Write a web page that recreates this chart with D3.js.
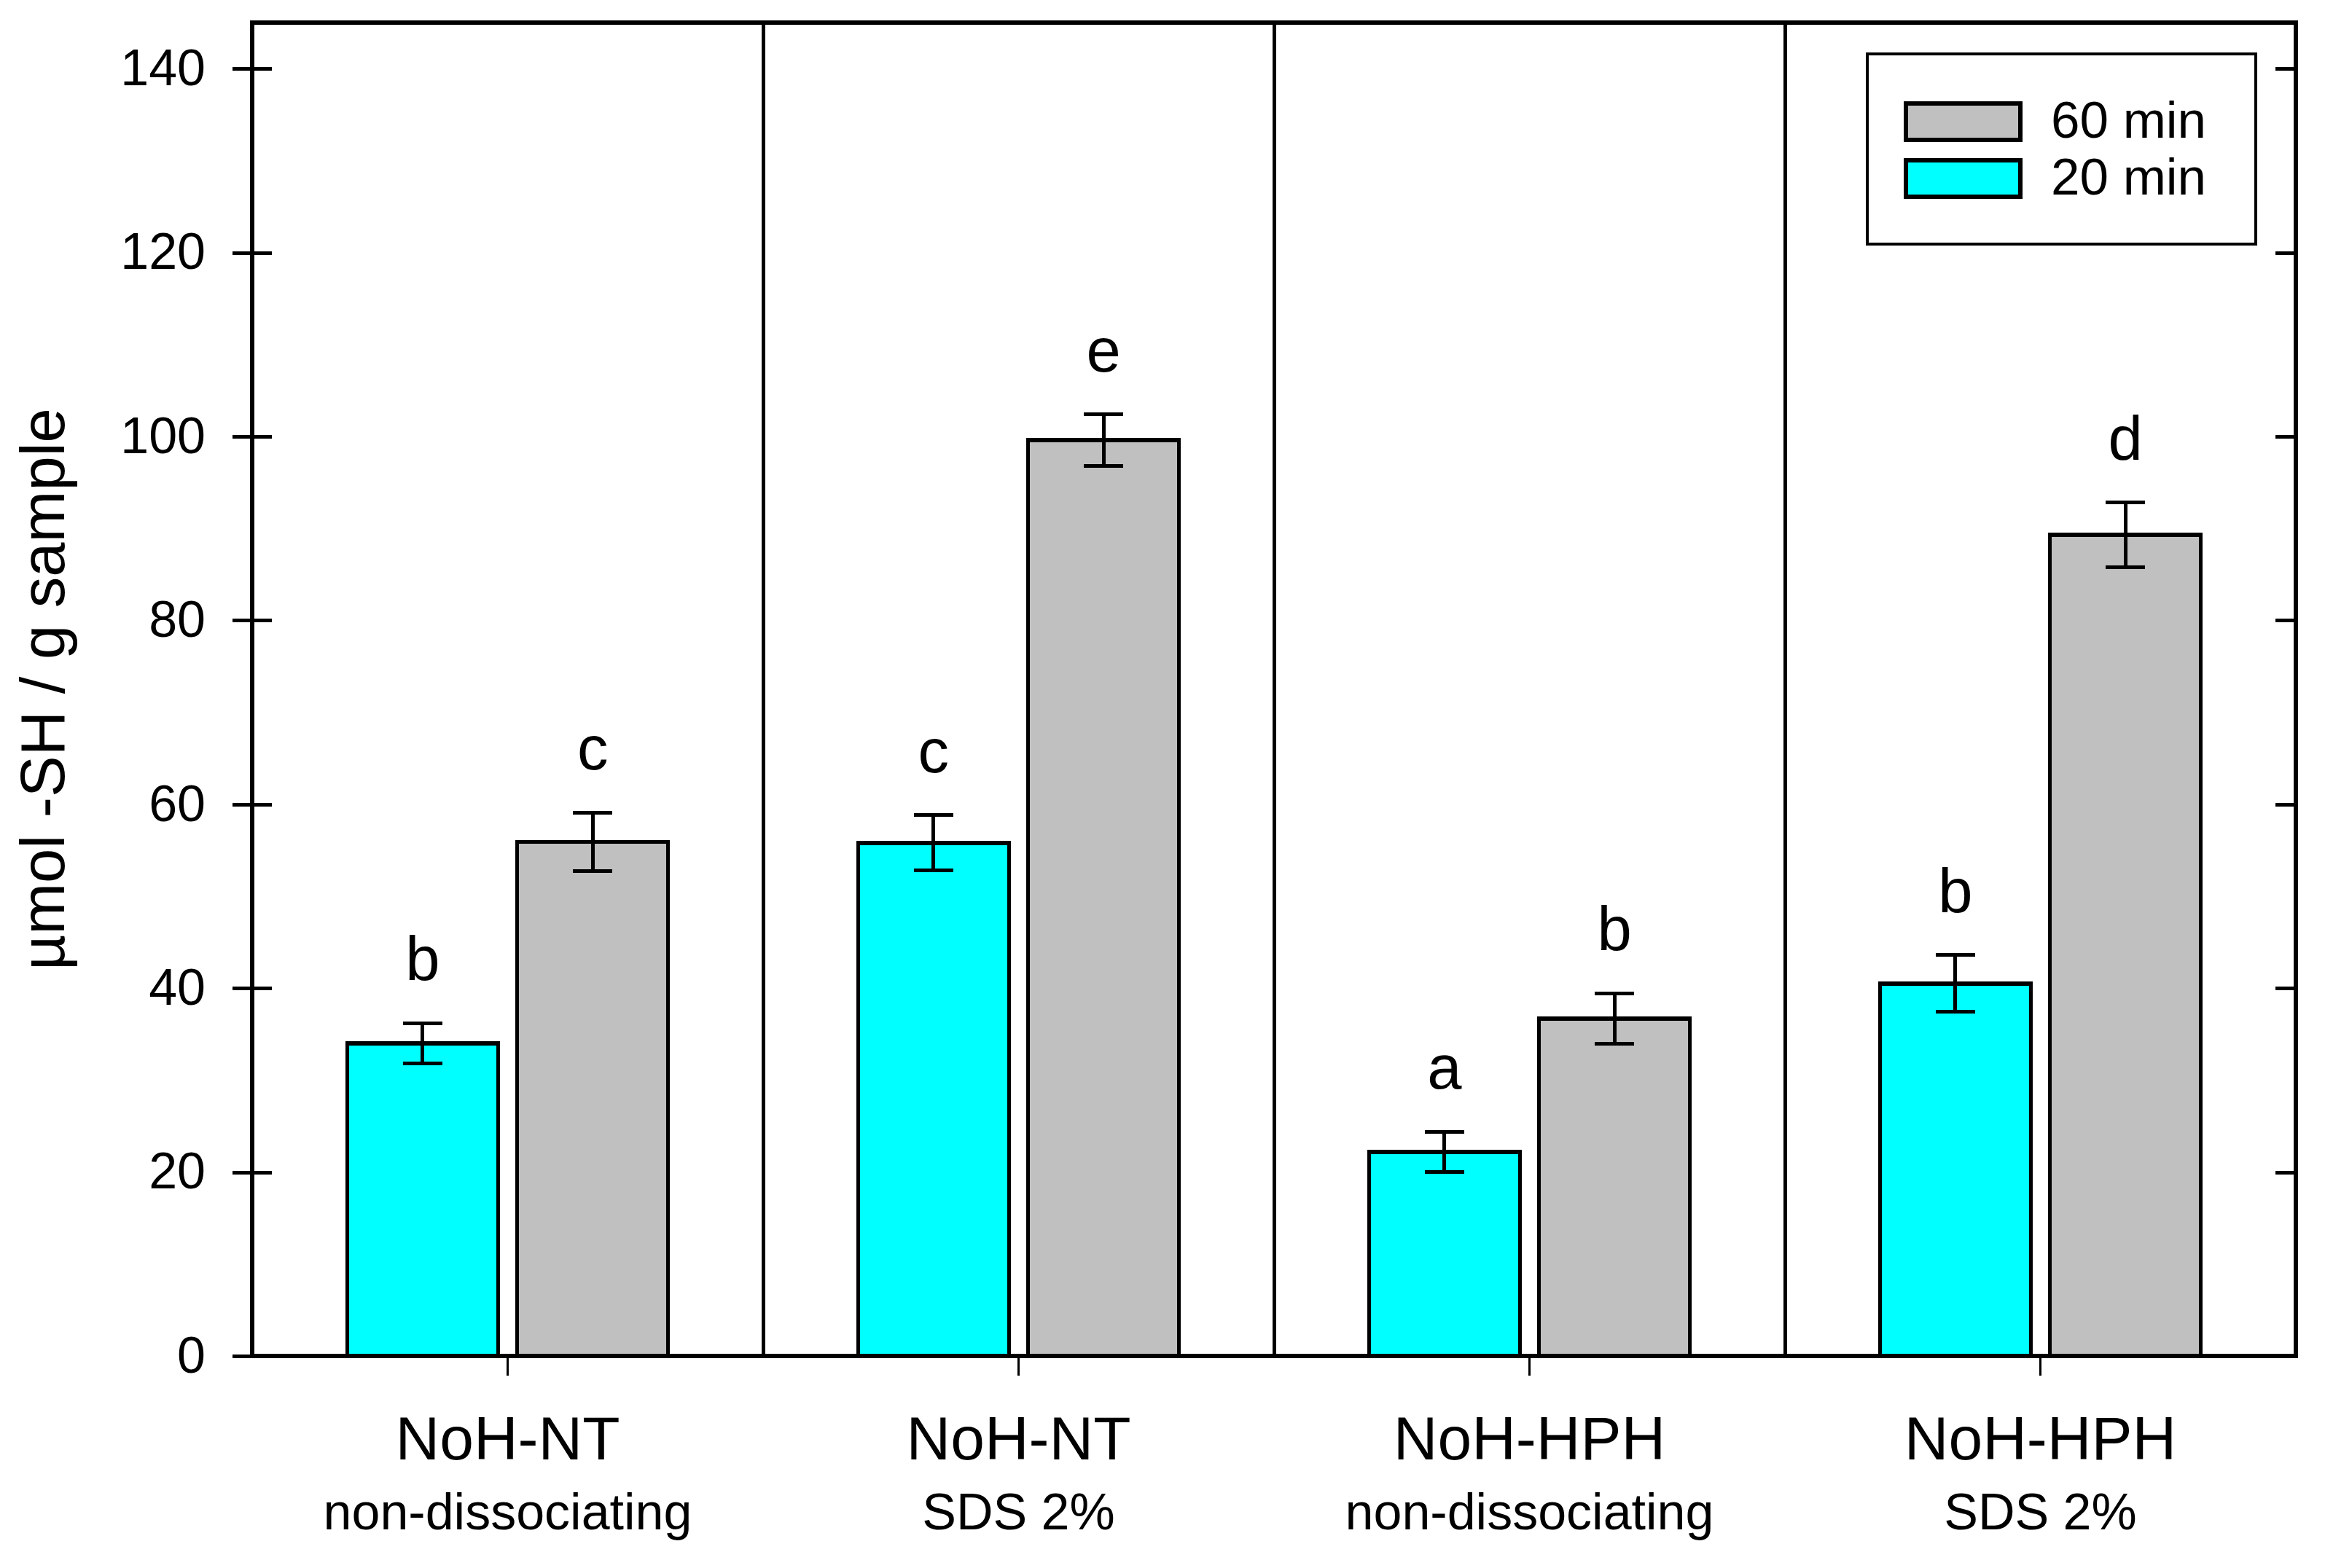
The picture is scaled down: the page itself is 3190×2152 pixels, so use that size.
<!DOCTYPE html>
<html>
<head>
<meta charset="utf-8">
<script src="https://cdn.jsdelivr.net/npm/d3@7"></script>
<style>
  html, body { margin: 0; padding: 0; background: #fff; }
  text { font-family: "Liberation Sans", Arial, sans-serif; fill: #000; }
  line, rect { shape-rendering: crispEdges; }
</style>
</head>
<body>
<div id="chart"></div>
<script>
document.addEventListener('DOMContentLoaded', function() {

    // data
    const groupIds = ["g1", "g2", "g3", "g4"];
    const groupMain = ["NoH-NT", "NoH-NT", "NoH-HPH", "NoH-HPH"];
    const groupSub = ["non-dissociating", "SDS 2%", "non-dissociating", "SDS 2%"];

    const seriesNames = ["20 min", "60 min"];
    const seriesColors = ["#00ffff", "#c0c0c0"];

    const values20 = [34.0, 55.8, 22.2, 40.5];
    const errors20 = [2.2, 3.0, 2.2, 3.1];
    const letters20 = ["b", "c", "a", "b"];

    const values60 = [55.9, 99.6, 36.7, 89.3];
    const errors60 = [3.2, 2.8, 2.75, 3.5];
    const letters60 = ["c", "e", "b", "d"];

    const yTicks = [0, 20, 40, 60, 80, 100, 120, 140];
    const yTitle = "\u00b5mol -SH / g sample";

    const width = 3190, height = 2152;
    const left = 346, right = 3150, top = 31, bottom = 1861;

    const svg = d3.select("#chart")
        .append("svg")
        .attr("width", width)
        .attr("height", height);

    const x0 = d3.scaleBand()
        .domain(groupIds)
        .range([left, right])
        .padding(0);

    const x1 = d3.scaleBand()
        .domain(seriesNames)
        .range([0, x0.bandwidth()])
        .paddingInner(0.113)
        .paddingOuter(0.558);

    const y = d3.scaleLinear()
        .domain([0, 145])
        .range([bottom, top]);

    const color = d3.scaleOrdinal().domain(seriesNames).range(seriesColors);

    // flatten into bar records
    const bars = [];
    groupIds.forEach((g, i) => {
        bars.push({ g: g, s: seriesNames[0], v: values20[i], e: errors20[i], l: letters20[i] });
        bars.push({ g: g, s: seriesNames[1], v: values60[i], e: errors60[i], l: letters60[i] });
    });

    const barG = svg.append("g");

    barG.selectAll("rect")
        .data(bars)
        .enter().append("rect")
        .attr("x", d => x0(d.g) + x1(d.s))
        .attr("width", x1.bandwidth())
        .attr("y", d => y(d.v))
        .attr("height", d => y(0) - y(d.v))
        .attr("fill", d => color(d.s))
        .attr("stroke", "#000")
        .attr("stroke-width", 5.5);

    // error bars
    const capHalf = 27;
    const errG = barG.selectAll("g.err")
        .data(bars)
        .enter().append("g")
        .attr("class", "err")
        .attr("stroke", "#000")
        .attr("stroke-width", 5);

    const cx = d => x0(d.g) + x1(d.s) + x1.bandwidth() / 2;

    errG.append("line")
        .attr("x1", cx).attr("x2", cx)
        .attr("y1", d => y(d.v + d.e)).attr("y2", d => y(d.v - d.e));
    errG.append("line")
        .attr("x1", d => cx(d) - capHalf).attr("x2", d => cx(d) + capHalf)
        .attr("y1", d => y(d.v + d.e)).attr("y2", d => y(d.v + d.e));
    errG.append("line")
        .attr("x1", d => cx(d) - capHalf).attr("x2", d => cx(d) + capHalf)
        .attr("y1", d => y(d.v - d.e)).attr("y2", d => y(d.v - d.e));

    // significance letters
    barG.selectAll("text.letter")
        .data(bars)
        .enter().append("text")
        .attr("class", "letter")
        .attr("x", cx)
        .attr("y", d => y(d.v + d.e) - 59)
        .attr("text-anchor", "middle")
        .style("font-size", "85px")
        .text(d => d.l);

    // frame and group separators
    svg.append("rect")
        .attr("x", left).attr("y", top)
        .attr("width", right - left).attr("height", bottom - top)
        .attr("fill", "none")
        .attr("stroke", "#000")
        .attr("stroke-width", 5.5);

    svg.append("g")
        .selectAll("line")
        .data(groupIds.slice(1))
        .enter().append("line")
        .attr("x1", d => x0(d)).attr("x2", d => x0(d))
        .attr("y1", top).attr("y2", bottom)
        .attr("stroke", "#000")
        .attr("stroke-width", 5);

    // left y axis, ticks crossing the axis
    const yAxis = svg.append("g")
        .attr("transform", `translate(${left},0)`)
        .call(d3.axisLeft(y).tickValues(yTicks).tickSize(27).tickPadding(37));
    yAxis.select(".domain").remove();
    yAxis.selectAll(".tick line")
        .attr("x1", 27)
        .attr("stroke", "#000")
        .attr("stroke-width", 5);
    yAxis.selectAll(".tick text")
        .attr("fill", "#000")
        .style("font-family", "'Liberation Sans', Arial, sans-serif")
        .style("font-size", "70px");

    // right y axis, ticks inward only
    const yAxisR = svg.append("g")
        .attr("transform", `translate(${right},0)`)
        .call(d3.axisLeft(y).tickValues(yTicks).tickSize(28).tickFormat(""));
    yAxisR.select(".domain").remove();
    yAxisR.selectAll(".tick line")
        .attr("stroke", "#000")
        .attr("stroke-width", 5);

    // x axis ticks
    const xAxis = svg.append("g")
        .attr("transform", `translate(0,${bottom})`)
        .call(d3.axisBottom(x0).tickSize(27).tickFormat(""));
    xAxis.select(".domain").remove();
    xAxis.selectAll(".tick line")
        .attr("stroke", "#000")
        .attr("stroke-width", 3);

    // x labels on two lines
    const xLab = svg.append("g").selectAll("g")
        .data(groupIds)
        .enter().append("g")
        .attr("transform", d => `translate(${x0(d) + x0.bandwidth() / 2},0)`);
    xLab.append("text")
        .attr("y", 2003)
        .attr("text-anchor", "middle")
        .style("font-size", "84px")
        .text((d, i) => groupMain[i]);
    xLab.append("text")
        .attr("y", 2099)
        .attr("text-anchor", "middle")
        .style("font-size", "70px")
        .text((d, i) => groupSub[i]);

    // y title
    svg.append("text")
        .attr("transform", `translate(88,${(top + bottom) / 2}) rotate(-90)`)
        .attr("text-anchor", "middle")
        .style("font-size", "85px")
        .text(yTitle);

    // legend (60 min listed first)
    const legend = svg.append("g");
    legend.append("rect")
        .attr("x", 2562).attr("y", 74)
        .attr("width", 533).attr("height", 261)
        .attr("fill", "#fff")
        .attr("stroke", "#000")
        .attr("stroke-width", 4.5);

    const legendItems = seriesNames.slice().reverse();
    const li = legend.selectAll("g.item")
        .data(legendItems)
        .enter().append("g")
        .attr("class", "item")
        .attr("transform", (d, i) => `translate(2615,${142 + i * 78})`);
    li.append("rect")
        .attr("width", 157).attr("height", 50)
        .attr("fill", d => color(d))
        .attr("stroke", "#000")
        .attr("stroke-width", 5.5);
    li.append("text")
        .attr("x", 199)
        .attr("y", 47)
        .style("font-size", "71px")
        .text(d => d);
});
</script>
</body>
</html>
